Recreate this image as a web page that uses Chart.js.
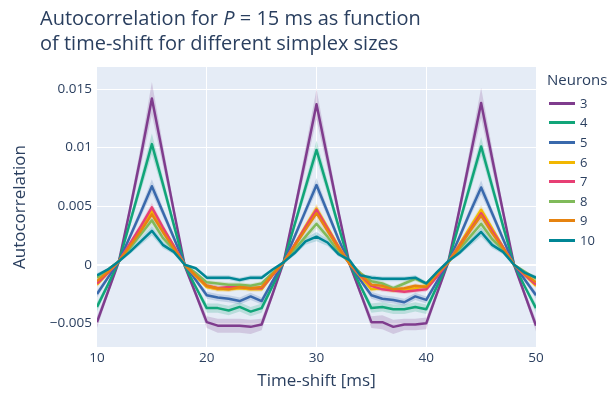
<!DOCTYPE html>
<html><head><meta charset="utf-8">
<script src="https://cdn.jsdelivr.net/npm/chart.js@4.4.1/dist/chart.umd.min.js"></script>
<style>
html,body{margin:0;padding:0;background:#fff;}
#wrap{position:relative;width:613px;height:395px;font-family:"Open Sans",sans-serif;color:#2a3f5f;overflow:hidden;}
#c{position:absolute;left:0;top:0;}
#title{position:absolute;left:40px;top:6px;font-size:20px;line-height:24.5px;white-space:nowrap;}
#legend{position:absolute;left:0;top:0;width:613px;height:395px;pointer-events:none;}
.lt{position:absolute;left:547px;top:69px;font-size:15px;line-height:20px;white-space:nowrap;}
.li{position:absolute;left:549px;height:20px;white-space:nowrap;}
.sw{position:absolute;left:0;top:9px;width:26px;height:3px;}
.lb{position:absolute;left:31px;top:0;font-size:13px;line-height:20px;}
</style>
</head><body>
<div id="wrap">
<canvas id="c" width="613" height="395"></canvas>
<div id="title">Autocorrelation for <i>P</i> = 15 ms as function<br>of time-shift for different simplex sizes</div>
<div id="legend"></div>
</div>
<script>
// ---- data ----
const timeShift = [10,11,12,13,14,15,16,17,18,19,20,21,22,23,24,25,26,27,28,29,30,31,32,33,34,35,36,37,38,39,40,41,42,43,44,45,46,47,48,49,50];
const neurons = ['3','4','5','6','7','8','9','10'];
const colors = ['#7F3C8D','#11A579','#3969AC','#F2B701','#E73F74','#80BA5A','#E68310','#008695'];
const bandColors = ['rgba(127,60,141,0.2)','rgba(17,165,121,0.2)','rgba(57,105,172,0.2)','rgba(242,183,1,0.2)','rgba(231,63,116,0.2)','rgba(128,186,90,0.2)','rgba(230,131,16,0.2)','rgba(0,134,149,0.2)'];

const n3 = [-0.0049,-0.0023,0.0003,0.0047,0.0093, 0.0142,0.0094,0.0046,-0.0001,-0.0025, -0.0049,-0.0052,-0.0052,-0.0052,-0.0053, -0.0051,-0.0025,0.0002,0.0046,0.0091, 0.0137,0.0091,0.0045,0.0001,-0.0024, -0.0049,-0.0049,-0.0053,-0.0051,-0.0051, -0.0050,-0.0024,0.0002,0.0046,0.0092, 0.0138,0.0091,0.0045,0.0000,-0.0026, -0.0052];
const n4 = [-0.0036,-0.0017,0.0003,0.0036,0.0069, 0.0103,0.0069,0.0034,-0.0001,-0.0019, -0.0037,-0.0037,-0.0039,-0.0036,-0.0040, -0.0037,-0.0018,0.0002,0.0034,0.0066, 0.0098,0.0066,0.0033,0.0001,-0.0018, -0.0037,-0.0036,-0.0038,-0.0038,-0.0036, -0.0038,-0.0018,0.0002,0.0035,0.0068, 0.0101,0.0067,0.0033,0.0000,-0.0019, -0.0037];
const n5 = [-0.0025,-0.0011,0.0003,0.0024,0.0045, 0.0067,0.0045,0.0023,0.0000,-0.0013, -0.0026,-0.0028,-0.0029,-0.0031,-0.0027, -0.0031,-0.0014,0.0002,0.0024,0.0046, 0.0068,0.0045,0.0022,0.0001,-0.0013, -0.0026,-0.0029,-0.0030,-0.0032,-0.0027, -0.0030,-0.0014,0.0002,0.0023,0.0045, 0.0066,0.0044,0.0022,0.0000,-0.0013, -0.0026];
const n6 = [-0.0017,-0.0007,0.0003,0.0017,0.0032, 0.0046,0.0031,0.0016,0.0000,-0.0010, -0.0019,-0.0021,-0.0021,-0.0020,-0.0021, -0.0021,-0.0009,0.0002,0.0017,0.0033, 0.0048,0.0032,0.0016,0.0001,-0.0010, -0.0021,-0.0020,-0.0022,-0.0021,-0.0020, -0.0018,-0.0008,0.0002,0.0017,0.0032, 0.0047,0.0031,0.0015,0.0000,-0.0009, -0.0018];
const n7 = [-0.0016,-0.0007,0.0003,0.0018,0.0033, 0.0049,0.0032,0.0016,0.0000,-0.0009, -0.0018,-0.0020,-0.0019,-0.0019,-0.0020, -0.0020,-0.0009,0.0002,0.0017,0.0032, 0.0047,0.0031,0.0015,0.0001,-0.0009, -0.0018,-0.0021,-0.0022,-0.0023,-0.0022, -0.0021,-0.0010,0.0002,0.0016,0.0030, 0.0044,0.0029,0.0015,0.0000,-0.0009, -0.0017];
const n8 = [-0.0011,-0.0004,0.0003,0.0014,0.0026, 0.0038,0.0023,0.0013,0.0000,-0.0007, -0.0015,-0.0016,-0.0017,-0.0017,-0.0018, -0.0016,-0.0007,0.0002,0.0013,0.0024, 0.0035,0.0024,0.0011,0.0002,-0.0007, -0.0014,-0.0016,-0.0020,-0.0016,-0.0012, -0.0016,-0.0007,0.0002,0.0013,0.0024, 0.0035,0.0022,0.0013,0.0000,-0.0006, -0.0012];
const n9 = [-0.0014,-0.0006,0.0003,0.0016,0.0029, 0.0043,0.0028,0.0014,0.0000,-0.0009, -0.0018,-0.0020,-0.0021,-0.0019,-0.0020, -0.0019,-0.0008,0.0002,0.0016,0.0030, 0.0044,0.0029,0.0014,0.0001,-0.0008, -0.0017,-0.0018,-0.0021,-0.0020,-0.0018, -0.0019,-0.0008,0.0002,0.0015,0.0029, 0.0042,0.0027,0.0014,0.0000,-0.0008, -0.0015];
const n10 = [-0.0009,-0.0004,0.0003,0.0011,0.0020, 0.0029,0.0017,0.0011,0.0000,-0.0003, -0.0011,-0.0011,-0.0011,-0.0013,-0.0011, -0.0011,-0.0004,0.0002,0.0010,0.0020, 0.0024,0.0019,0.0009,0.0004,-0.0009, -0.0011,-0.0012,-0.0012,-0.0012,-0.0011, -0.0016,-0.0006,0.0003,0.0010,0.0019, 0.0028,0.0017,0.0011,0.0000,-0.0007, -0.0011];

// error-band half widths
const err3 = [0.0005,0.0003,0.0002,0.0005,0.0009, 0.0014,0.0009,0.0005,0.0002,0.0003, 0.0005,0.0006,0.0006,0.0006,0.0006, 0.0005,0.0003,0.0002,0.0005,0.0009, 0.0013,0.0009,0.0005,0.0002,0.0003, 0.0005,0.0006,0.0006,0.0005,0.0005, 0.0005,0.0003,0.0002,0.0005,0.0009, 0.0013,0.0009,0.0005,0.0002,0.0003, 0.0005];
const err4 = [0.0004,0.0002,0.0001,0.0004,0.0006, 0.0009,0.0006,0.0004,0.0001,0.0002, 0.0004,0.0004,0.0004,0.0004,0.0004, 0.0004,0.0002,0.0001,0.0004,0.0006, 0.0008,0.0006,0.0004,0.0001,0.0002, 0.0004,0.0004,0.0004,0.0004,0.0004, 0.0004,0.0002,0.0001,0.0004,0.0006, 0.0008,0.0006,0.0004,0.0001,0.0002, 0.0004];
const err5 = [0.0003,0.0002,0.0001,0.0003,0.0004, 0.0006,0.0004,0.0003,0.0001,0.0002, 0.0003,0.0003,0.0003,0.0003,0.0003, 0.0003,0.0002,0.0001,0.0003,0.0004, 0.0006,0.0004,0.0003,0.0001,0.0002, 0.0003,0.0003,0.0003,0.0003,0.0003, 0.0003,0.0002,0.0001,0.0003,0.0004, 0.0006,0.0004,0.0003,0.0001,0.0002, 0.0003];
const errSmall = [0.0002,0.0001,0.0001,0.0002,0.0003, 0.0004,0.0003,0.0002,0.0001,0.0001, 0.0002,0.0002,0.0002,0.0002,0.0002, 0.0002,0.0001,0.0001,0.0002,0.0003, 0.0004,0.0003,0.0002,0.0001,0.0001, 0.0002,0.0002,0.0002,0.0002,0.0002, 0.0002,0.0001,0.0001,0.0002,0.0003, 0.0004,0.0003,0.0002,0.0001,0.0001, 0.0002];

const yTicks = [-0.005, 0, 0.005, 0.01, 0.015];
const yTickLabels = ['\u22120.005', '0', '0.005', '0.01', '0.015'];
const xTicks = [10, 20, 30, 40, 50];
const xTitle = 'Time-shift [ms]';
const yTitle = 'Autocorrelation';
const legendTitle = 'Neurons';

// ---- build ----
const series = [n3, n4, n5, n6, n7, n8, n9, n10];
const errs = [err3, err4, err5, errSmall, errSmall, errSmall, errSmall, errSmall];
const datasets = [];
series.forEach((vals, i) => {
  const e = errs[i];
  datasets.push({
    label: neurons[i] + ' upper',
    data: timeShift.map((x, k) => ({x, y: vals[k] + e[k]})),
    borderWidth: 0, pointRadius: 0, fill: false, order: 100
  });
  datasets.push({
    label: neurons[i] + ' lower',
    data: timeShift.map((x, k) => ({x, y: vals[k] - e[k]})),
    borderWidth: 0, pointRadius: 0, fill: '-1', backgroundColor: bandColors[i], order: 100
  });
});
series.forEach((vals, i) => {
  datasets.push({
    label: neurons[i],
    data: timeShift.map((x, k) => ({x, y: vals[k]})),
    borderColor: colors[i], borderWidth: 2.5, pointRadius: 0, fill: false,
    tension: 0, order: 20 - i, borderJoinStyle: 'round'
  });
});

const bgPlugin = {
  id: 'plotbg',
  beforeDraw(chart) {
    const {ctx, chartArea: a} = chart;
    ctx.save();
    ctx.fillStyle = '#E5ECF6';
    ctx.fillRect(a.left, a.top, a.right - a.left, a.bottom - a.top);
    ctx.restore();
  }
};

const FONT = '"Open Sans", sans-serif';
new Chart(document.getElementById('c'), {
  type: 'line',
  data: {datasets},
  plugins: [bgPlugin],
  options: {
    responsive: false, animation: false, devicePixelRatio: 1,
    layout: {padding: {top: 67, right: 77, left: 0, bottom: 0}},
    plugins: {legend: {display: false}, tooltip: {enabled: false}, title: {display: false},
      filler: {drawTime: 'beforeDatasetsDraw'}},
    scales: {
      x: {
        type: 'linear', min: 10, max: 50,
        afterBuildTicks: s => { s.ticks = xTicks.map(v => ({value: v})); },
        afterFit: s => { s.height = 48; },
        grid: {color: c => (c.tick && (c.tick.value === 10 || c.tick.value === 50)) ? 'rgba(0,0,0,0)' : '#ffffff', lineWidth: 1, drawTicks: false},
        border: {display: false},
        ticks: {color: '#2a3f5f', font: {family: FONT, size: 13.5}, padding: 3, maxRotation: 0},
        title: {display: true, text: xTitle, color: '#2a3f5f', font: {family: FONT, size: 17}, padding: {top: 0, bottom: 4}}
      },
      y: {
        type: 'linear', min: -0.00702, max: 0.01688,
        afterBuildTicks: s => { s.ticks = yTicks.map(v => ({value: v})); },
        afterFit: s => { s.width = 97; },
        grid: {color: '#ffffff', lineWidth: c => (c.tick && c.tick.value === 0) ? 2 : 1, drawTicks: false},
        border: {display: false},
        ticks: {color: '#2a3f5f', font: {family: FONT, size: 13.5}, padding: 5,
          callback: v => { const k = yTicks.indexOf(v); return k >= 0 ? yTickLabels[k] : ''; }},
        title: {display: true, text: yTitle, color: '#2a3f5f', font: {family: FONT, size: 17}, padding: {top: 10, bottom: 0}}
      }
    }
  }
});

// ---- legend (HTML text) ----
const lg = document.getElementById('legend');
const t = document.createElement('div');
t.className = 'lt'; t.textContent = legendTitle; lg.appendChild(t);
neurons.forEach((n, i) => {
  const d = document.createElement('div');
  d.className = 'li';
  d.style.top = (92.7 + i * 19.6) + 'px';
  const sw = document.createElement('div');
  sw.className = 'sw'; sw.style.background = colors[i];
  const lb = document.createElement('div');
  lb.className = 'lb'; lb.textContent = n;
  d.appendChild(sw); d.appendChild(lb); lg.appendChild(d);
});
</script>
</body></html>
